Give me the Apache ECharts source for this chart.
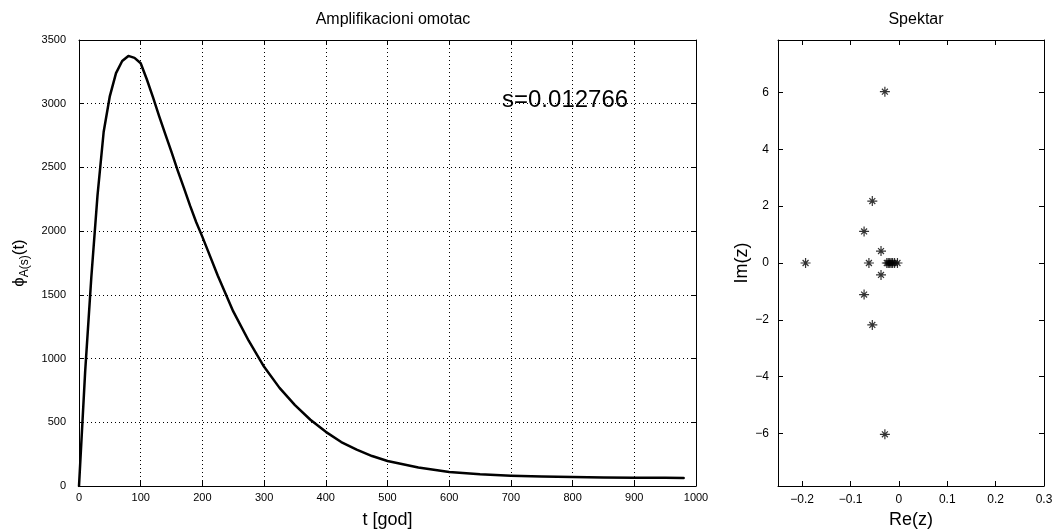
<!DOCTYPE html>
<html>
<head>
<meta charset="utf-8">
<script src="https://cdn.jsdelivr.net/npm/echarts@6/dist/echarts.min.js"></script>
<style>
html,body{margin:0;padding:0;background:#fff;}
#main{width:1055px;height:531px;}
</style>
</head>
<body>
<div id="main"></div>
<script>
// Left plot: amplification envelope
var tYears = [0,10,20,30,40,50,60,70,80,90,100,110,120,130,140,150,160,170,180,190,200,225,250,275,300,325,350,375,400,425,450,475,500,550,600,650,700,750,800,850,900,950,980];
var phiValues = [0,900,1640,2280,2780,3060,3240,3335,3375,3360,3318,3190,3050,2900,2760,2620,2475,2340,2200,2070,1955,1650,1370,1140,935,770,635,520,425,345,285,235,196,145,110,92,81,74,70,67,65,64,63];
var leftXTicks = [0,100,200,300,400,500,600,700,800,900,1000];
var leftYTicks = [0,500,1000,1500,2000,2500,3000,3500];

// Right plot: spectrum (Re, Im)
var reValues = [-0.029,-0.029,-0.055,-0.055,-0.072,-0.072,-0.037,-0.037,-0.193,-0.062,-0.025,-0.022,-0.019,-0.016,-0.013,-0.009,-0.003];
var imValues = [6.03,-6.03,2.18,-2.18,1.11,-1.11,0.42,-0.42,0,0,0,0,0,0,0,0,0];
var rightXTicks = [-0.2,-0.1,0,0.1,0.2,0.3];
var rightYTicks = [-6,-4,-2,0,2,4,6];

var annotationText = 's=0.012766';

var FONT = '"Liberation Sans", Arial, Helvetica, sans-serif';
var chart = echarts.init(document.getElementById('main'), null, {renderer:'canvas'});

var lineData = tYears.map(function(t,i){return [t, phiValues[i]];});
var scatterData = reValues.map(function(r,i){return [r, imValues[i]];});

var asterisk = 'path://M8.8 0H11.2V20H8.8Z M0 8.8H20V11.2H0Z M3.2 4.9L4.9 3.2L16.8 15.1L15.1 16.8Z M15.1 3.2L16.8 4.9L4.9 16.8L3.2 15.1Z';

function fmt(v){ return String(v).replace('-', '\u2212'); }

var axisLineStyle = {show:true, onZero:false, lineStyle:{color:'#000', width:1}};
var tickStyle = {show:true, inside:true, length:5, lineStyle:{color:'#000', width:1}};
var labelStyle = {color:'#000', fontFamily:FONT, fontSize:11, formatter:fmt};

var option = {
  animation:false,
  backgroundColor:'#fff',
  title:[
    {text:'Amplifikacioni omotac', left:388, top:7, textAlign:'center',
     textStyle:{fontFamily:FONT, fontSize:16, fontWeight:'normal', color:'#000'}},
    {text:'Spektar', left:911, top:7, textAlign:'center',
     textStyle:{fontFamily:FONT, fontSize:16, fontWeight:'normal', color:'#000'}}
  ],
  grid:[
    {left:79, right:359, top:40, bottom:45, outerBoundsMode:'none', containLabel:false},
    {left:778, right:11, top:40, bottom:45, outerBoundsMode:'none', containLabel:false}
  ],
  xAxis:[
    {type:'value', gridIndex:0, min:0, max:1000, interval:100, position:'bottom',
     axisLine:axisLineStyle, axisTick:tickStyle,
     axisLabel:Object.assign({}, labelStyle, {margin:6}),
     splitLine:{show:true, lineStyle:{color:'#000', width:1, type:[1,3]}},
     name:'t [god]', nameLocation:'middle', nameGap:25,
     nameTextStyle:{fontFamily:FONT, fontSize:18, color:'#000'}},
    {type:'value', gridIndex:0, min:0, max:1000, interval:100, position:'top',
     axisLine:axisLineStyle, axisTick:tickStyle, axisLabel:{show:false}, splitLine:{show:false}},
    {type:'value', gridIndex:1, min:-0.25, max:0.3, position:'bottom',
     axisLine:axisLineStyle,
     axisTick:Object.assign({customValues:rightXTicks}, tickStyle),
     axisLabel:Object.assign({}, labelStyle, {margin:8, fontSize:12, customValues:rightXTicks}),
     splitLine:{show:false},
     name:'Re(z)', nameLocation:'middle', nameGap:25,
     nameTextStyle:{fontFamily:FONT, fontSize:18, color:'#000'}},
    {type:'value', gridIndex:1, min:-0.25, max:0.3, position:'top',
     axisLine:axisLineStyle, axisTick:Object.assign({customValues:rightXTicks}, tickStyle),
     axisLabel:{show:false}, splitLine:{show:false}}
  ],
  yAxis:[
    {type:'value', gridIndex:0, min:0, max:3500, interval:500, position:'left',
     axisLine:axisLineStyle, axisTick:tickStyle,
     axisLabel:Object.assign({}, labelStyle, {margin:13}),
     splitLine:{show:true, lineStyle:{color:'#000', width:1, type:[1,3]}},
     name:'{a|\u03d5}{b|A(s)}{a|(t)}', nameLocation:'middle', nameGap:44,
     nameTextStyle:{fontFamily:FONT, color:'#000',
       rich:{a:{fontFamily:FONT, fontSize:17, color:'#000'},
             b:{fontFamily:FONT, fontSize:12, color:'#000', padding:[10,0,0,0], verticalAlign:'bottom'}}}},
    {type:'value', gridIndex:0, min:0, max:3500, interval:500, position:'right',
     axisLine:axisLineStyle, axisTick:tickStyle, axisLabel:{show:false}, splitLine:{show:false}},
    {type:'value', gridIndex:1, min:-7.85, max:7.85, position:'left',
     axisLine:axisLineStyle, axisTick:Object.assign({customValues:rightYTicks}, tickStyle),
     axisLabel:Object.assign({}, labelStyle, {margin:9, fontSize:12, customValues:rightYTicks}),
     splitLine:{show:false},
     name:'Im(z)', nameLocation:'middle', nameGap:24,
     nameTextStyle:{fontFamily:FONT, fontSize:18, color:'#000'}},
    {type:'value', gridIndex:1, min:-7.85, max:7.85, position:'right',
     axisLine:axisLineStyle, axisTick:Object.assign({customValues:rightYTicks}, tickStyle),
     axisLabel:{show:false}, splitLine:{show:false}}
  ],
  series:[
    {type:'line', xAxisIndex:0, yAxisIndex:0, data:lineData, showSymbol:false,
     smooth:false,
     lineStyle:{color:'#000', width:2.5, join:'round', cap:'round'}},
    {type:'scatter', xAxisIndex:2, yAxisIndex:2, data:scatterData,
     symbol:asterisk, symbolSize:10, itemStyle:{color:'#000'}}
  ],
  graphic:[
    {type:'text', left:502, top:88, style:{text:annotationText, fontFamily:FONT, fontSize:24, fill:'#000'}}
  ]
};
chart.setOption(option);
</script>
</body>
</html>
